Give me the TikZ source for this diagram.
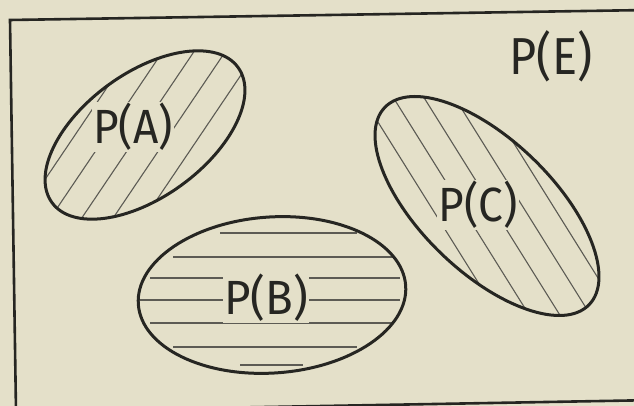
\documentclass[tikz,border=0pt]{standalone}
\usepackage{fontspec}
\newfontfamily\hand{Fira Sans}
\definecolor{paper}{HTML}{E4E0C9}
\definecolor{ink}{HTML}{262622}
\definecolor{hatchc}{HTML}{5C5B54}
\begin{document}
\begin{tikzpicture}[x=1pt,y=1pt,
  outline/.style={draw=ink, line width=3pt},
  hatchline/.style={draw=hatchc, line width=1.1pt},
  frame/.style={draw=ink, line width=2.6pt},
  lbl/.style={fill=paper, inner sep=1.5pt, text=ink, font=\hand\fontsize{48}{48}\selectfont}]
\fill[paper] (0,0) rectangle (634,406);
\useasboundingbox (0,0) rectangle (634,406);
\clip (0,0) rectangle (634,406);
% frame
\draw[frame, line join=miter] (680,396.5) -- (10,386) -- (16,-5.5) -- (686,6.5);
% A
\begin{scope}[shift={(145,271)}]
  \begin{scope}
    \clip[rotate=36] (0,0) ellipse [x radius=115, y radius=62];
    \foreach \k in {-5,...,5} \draw[hatchline, rotate=56] (-150,\k*26+6) -- (150,\k*26+6);
  \end{scope}
  \draw[outline, rotate=36] (0,0) ellipse [x radius=115, y radius=62];
\end{scope}
% C
\begin{scope}[shift={(487,200)}]
  \begin{scope}
    \clip[rotate=-44] (0,0) ellipse [x radius=142, y radius=66];
    \foreach \k in {-6,...,6} \draw[hatchline, rotate=-58] (-170,\k*26+4) -- (170,\k*26+4);
  \end{scope}
  \draw[outline, rotate=-44] (0,0) ellipse [x radius=142, y radius=66];
\end{scope}
% B
\begin{scope}
  \clip[rotate around={4:(272,111)}] (272,111) ellipse [x radius=134, y radius=78];
  \draw[hatchline] (220,173) -- (357,173);
  \draw[hatchline] (173,149) -- (393,149);
  \draw[hatchline] (150,128) -- (400,128);
  \draw[hatchline] (138,106) -- (400,106);
  \draw[hatchline] (150,83) -- (392,83);
  \draw[hatchline] (173,59) -- (357,59);
  \draw[hatchline] (240,41) -- (303,41);
\end{scope}
\draw[outline, rotate around={4:(272,111)}] (272,111) ellipse [x radius=134, y radius=78];
% labels
\node[lbl] (pa) at (133,279) {\scalebox{0.92}[1]{P(A)}};
\node[lbl] (pb) at (266,108) {\scalebox{0.95}[1]{P(B)}};
\node[lbl] (pc) at (478,201) {\scalebox{0.92}[1]{P(C)}};
\node[text=ink, font=\hand\fontsize{52}{52}\selectfont] (pe) at (551,350) {\scalebox{0.9}[1]{P(E)}};
\end{tikzpicture}
\end{document}
